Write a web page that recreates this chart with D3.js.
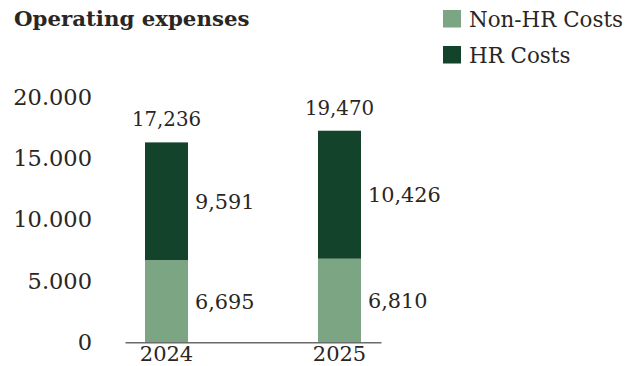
<!DOCTYPE html>
<html>
<head>
<meta charset="utf-8">
<script src="https://cdn.jsdelivr.net/npm/d3@7"></script>
<style>
  html, body { margin: 0; padding: 0; background: #ffffff; }
  svg { display: block; }
  text { font-family: "DejaVu Serif", Georgia, serif; fill: #2a2623; }
</style>
</head>
<body>
<svg id="chart" width="634" height="366"></svg>
<script>
// Operating expenses by year, split into non-HR and HR costs
const years = ["2024", "2025"];
const nonHrCosts = [6695, 6810];
const hrCosts = [9591, 10426];
const totalLabels = ["17,236", "19,470"];
const yTicks = [0, 5000, 10000, 15000, 20000];
const seriesNames = ["Non-HR Costs", "HR Costs"];
const seriesColors = ["#7ba583", "#13432a"];

const svg = d3.select("#chart");

const x = d3.scaleBand()
  .domain(years)
  .range([125, 381])
  .paddingInner(0.7514)
  .paddingOuter(0.1156);

const y = d3.scaleLinear()
  .domain([0, 20000])
  .range([342.3, 96.8]);

const rows = years.map((yr, i) => ({ year: yr, nonhr: nonHrCosts[i], hr: hrCosts[i], total: totalLabels[i] }));
const stack = d3.stack().keys(["nonhr", "hr"]);
const layers = stack(rows);

// Title
svg.append("text")
  .attr("x", 14)
  .attr("y", 26)
  .attr("font-size", 21.3)
  .attr("font-weight", "bold")
  .text("Operating expenses");

// Legend
const legend = svg.append("g");
seriesNames.forEach((name, i) => {
  const g = legend.append("g").attr("transform", `translate(443, ${10 + i * 36})`);
  g.append("rect").attr("width", 18).attr("height", 17.5).attr("fill", seriesColors[i]);
  g.append("text").attr("x", 26).attr("y", 16.5).attr("font-size", 21.4).text(name);
});

// Stacked bars
const barG = svg.append("g");
layers.forEach((layer, li) => {
  barG.selectAll(null)
    .data(layer)
    .join("rect")
    .attr("x", d => x(d.data.year))
    .attr("width", x.bandwidth())
    .attr("y", d => y(d[1]))
    .attr("height", d => y(d[0]) - y(d[1]))
    .attr("fill", seriesColors[li]);

  // Segment value labels to the right of each bar
  barG.selectAll(null)
    .data(layer)
    .join("text")
    .attr("x", d => x(d.data.year) + x.bandwidth() + 7)
    .attr("y", d => (y(d[0]) + y(d[1])) / 2)
    .attr("dy", "0.36em")
    .attr("font-size", 20.8)
    .text(d => d3.format(",")(d[1] - d[0]));
});

// Totals above each bar
const topLayer = layers[layers.length - 1];
barG.selectAll(null)
  .data(topLayer)
  .join("text")
  .attr("x", d => x(d.data.year) + x.bandwidth() / 2)
  .attr("y", d => y(d[1]) - 16)
  .attr("text-anchor", "middle")
  .attr("font-size", 19.8)
  .text(d => d.data.total);

// Y axis labels (no line, no ticks)
const yAxis = svg.append("g")
  .attr("transform", "translate(92,0)")
  .call(d3.axisLeft(y).tickValues(yTicks).tickSize(0).tickPadding(0)
    .tickFormat(d => d3.format(",")(d).replace(/,/g, ".")));
yAxis.select(".domain").remove();
yAxis.selectAll("text")
  .attr("font-family", "DejaVu Serif, serif")
  .attr("font-size", 22.5)
  .attr("fill", "#2a2623");

// X axis baseline and year labels
const xAxis = svg.append("g")
  .attr("transform", `translate(0, ${y(0)})`)
  .call(d3.axisBottom(x).tickSize(0).tickPadding(3.5).tickSizeOuter(0));
xAxis.select(".domain").attr("stroke", "#6b6b6b").attr("stroke-width", 1.4);
xAxis.selectAll("text")
  .attr("font-family", "DejaVu Serif, serif")
  .attr("font-size", 21)
  .attr("fill", "#2a2623");
</script>
</body>
</html>
